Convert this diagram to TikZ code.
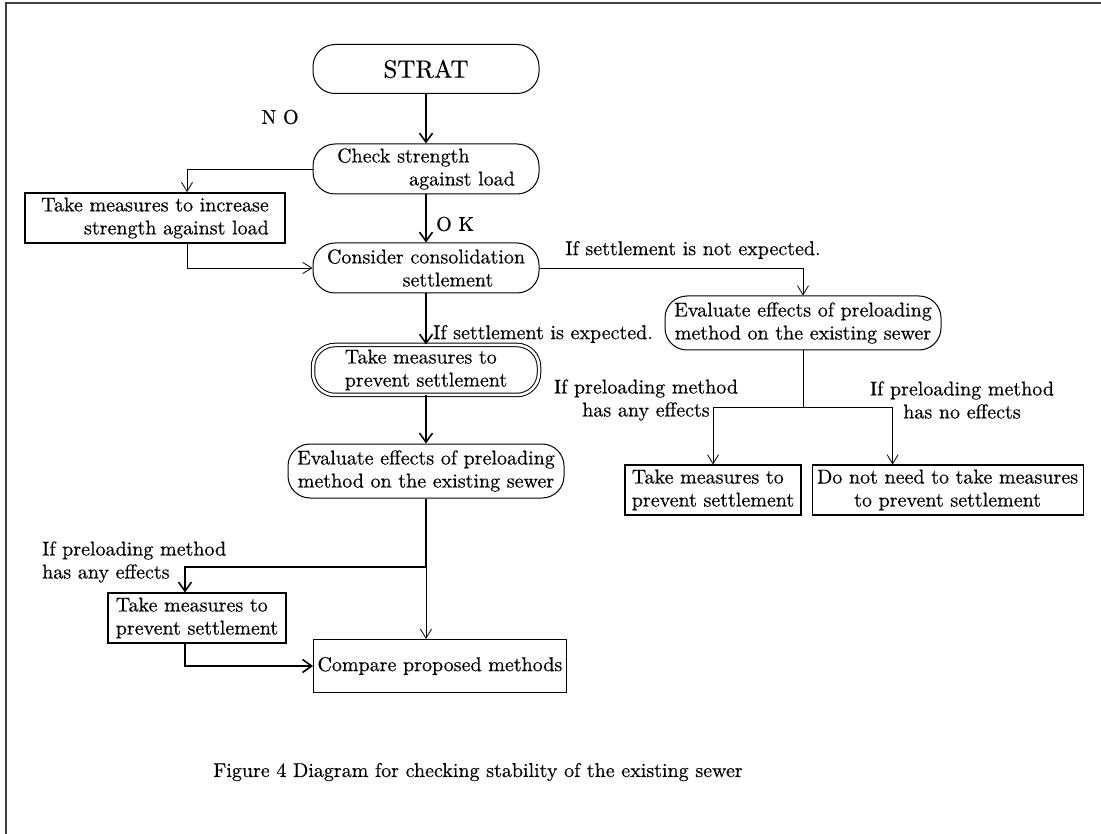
\documentclass[tikz,border=0pt]{standalone}
\usepackage{fontspec}
\setmainfont{lmroman10-regular.otf}[FakeBold=0.4]
\usepackage{tikz}
\usetikzlibrary{positioning,arrows.meta}

\tikzset{
  pill/.style={draw, line width=1pt, rounded corners=22pt, minimum width=226pt,
    minimum height=50pt, align=center, inner sep=2pt},
  evalbox/.style={pill, minimum width=276pt, minimum height=54pt},
  plainbox/.style={draw, line width=1.1pt, inner sep=4pt, minimum height=50pt, align=center},
  flow/.style={line width=1.8pt, -{Straight Barb[length=9pt,width=13pt,line width=1.6pt]}},
  thinflow/.style={line width=0.8pt, -{Straight Barb[length=9pt,width=11pt]}},
  lbl/.style={inner sep=0pt, align=left},
}

\begin{document}
\begin{tikzpicture}[x=1pt, y=-1pt, font=\fontsize{20}{23}\selectfont]
  \useasboundingbox (0,0) rectangle (1101,834);
  \draw[line width=2pt, black!75] (6,834) -- (6,3) -- (1101,3);
  % Define nodes
  \node[pill, minimum height=49pt, font=\fontsize{25}{28}\selectfont] (start) at (426,69) {STRAT};
  \node[pill, align=left] (check) at (426,169) {Check strength\\\hspace*{3.6em}against load};
  \node[plainbox, line width=1.8pt, align=right, minimum width=260pt] (increase) at (155,218)
    {Take measures to increase\\strength against load};
  \node[pill] (consider) at (426,268) {Consider consolidation\\\hspace*{2.2em}settlement};
  \node[pill, double, double distance=2.5pt, align=left] (prevent) at (426,370)
    {Take measures to\\prevent settlement};
  \node[evalbox] (evalL) at (426,471) {Evaluate effects of preloading\\method on the existing sewer};
  \node[evalbox] (evalR) at (803,323) {Evaluate effects of preloading\\method on the existing sewer};
  \node[plainbox, align=left, minimum width=176pt] (preventR) at (713,490)
    {Take measures to\\prevent settlement};
  \node[plainbox, minimum width=271pt, right=10pt of preventR] (noneed)
    {Do not need to take measures\\to prevent settlement};
  \node[plainbox, align=left, minimum width=178pt] (preventL) at (197,618)
    {Take measures to\\prevent settlement};
  \node[plainbox, text width=245pt, align=left, minimum height=53pt] (compare) at (440,666)
    {Compare proposed methods};
  % labels
  \node (no) at (280,117) {N\ O};
  \node[lbl, anchor=west] (ok) at (436,224) {O\ K};
  \node[lbl, anchor=west] (expected) at (433,334) {If settlement is expected.};
  \node[lbl] (notexpected) at (693,250) {If settlement is not expected.};
  \node[lbl, align=center] (anyR) at (646,400) {If preloading method\\has any effects};
  \node[lbl, align=center] (noeffR) at (962,400) {If preloading method\\has no effects};
  \node[lbl, anchor=west] (anyL) at (42,562) {If preloading method\\has any effects};
  \node[lbl] (caption) at (478,772)
    {Figure 4 Diagram for checking stability of the existing sewer};
  \coordinate (splitR) at (803,407);
  \coordinate (splitL) at (426,567);
  % Connect the nodes
  \draw[flow] (start) -- (check);
  \draw[flow] (check) -- (consider);
  \draw[thinflow] (check.west) -| ([xshift=32pt]increase.north);
  \draw[thinflow] ([xshift=32pt]increase.south) |- (consider.west);
  \draw[thinflow] (consider.east) -| (evalR.north);
  \draw[flow] (consider) -- (prevent);
  \draw[flow] (prevent) -- (evalL);
  \draw[line width=0.8pt] (evalR.south) -- (splitR);
  \draw[thinflow] (splitR) -| (preventR.north);
  \draw[thinflow] (splitR) -| ([xshift=-55pt]noneed.north);
  \draw[line width=1.8pt] (evalL.south) -- (splitL);
  \draw[flow] (splitL) -| ([xshift=-12pt]preventL.north);
  \draw[thinflow] (splitL) -- (splitL |- compare.north);
  \draw[flow] ([xshift=-12pt]preventL.south) |- (compare.west);
\end{tikzpicture}
\end{document}
